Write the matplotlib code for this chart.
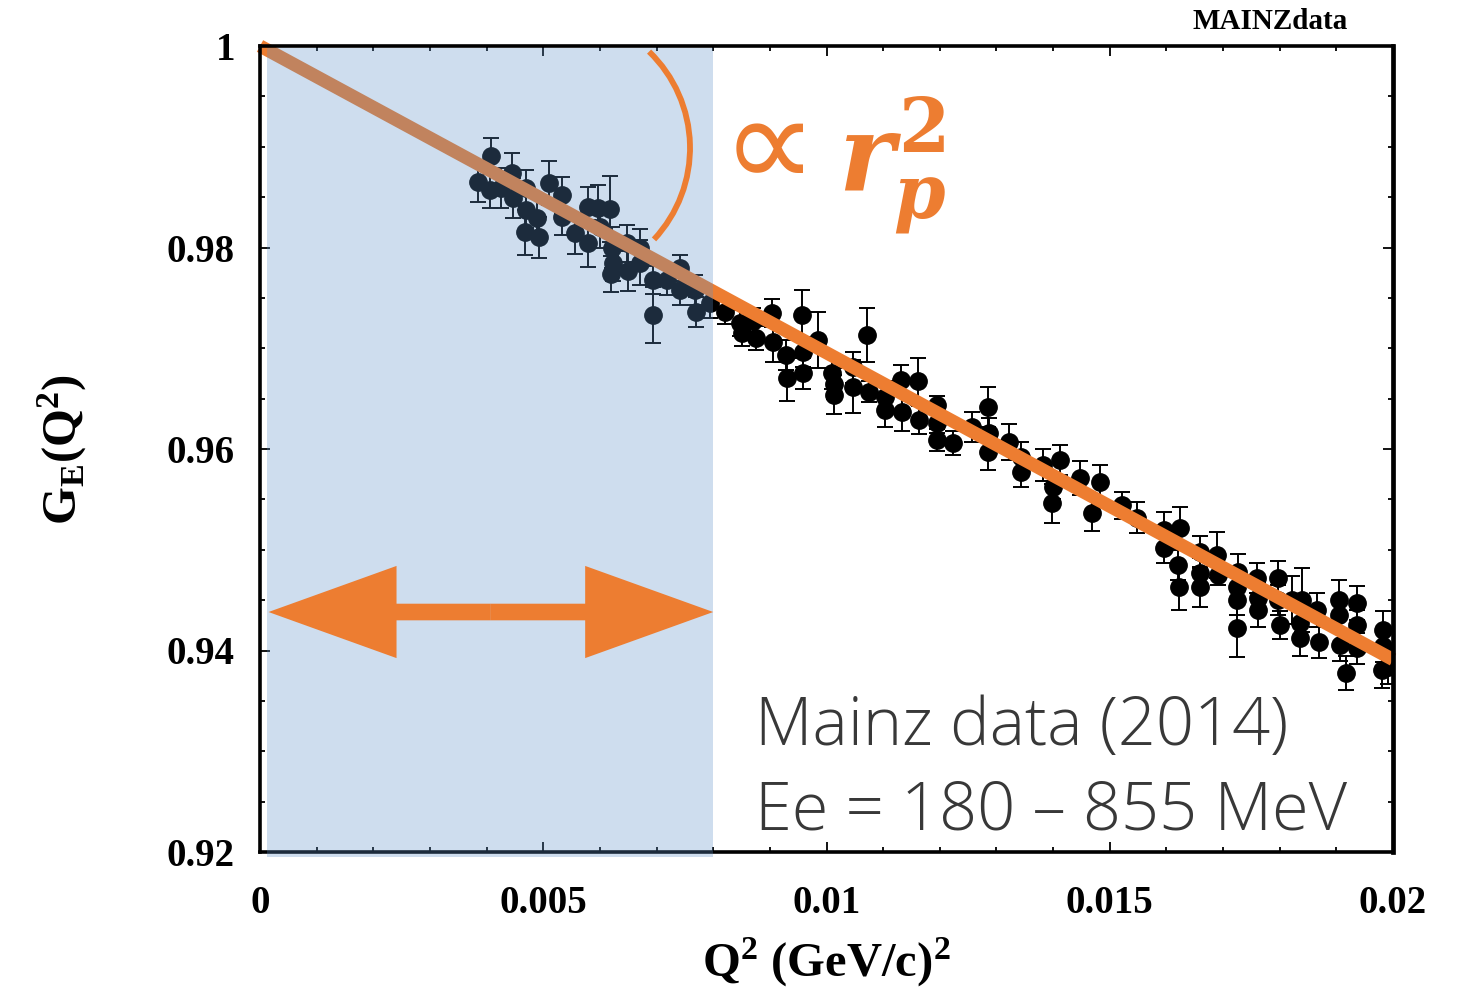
import matplotlib
matplotlib.use("Agg")
import matplotlib.pyplot as plt
from matplotlib.patches import Rectangle, FancyArrow, Arc
from matplotlib.transforms import IdentityTransform
from matplotlib.ticker import FixedLocator, FixedFormatter, MultipleLocator
import numpy as np

plt.rcParams['mathtext.fontset'] = 'custom'
plt.rcParams['mathtext.rm'] = 'Liberation Serif:bold'
plt.rcParams['mathtext.bf'] = 'Liberation Serif:bold'
plt.rcParams['mathtext.it'] = 'DejaVu Serif:italic:bold'
plt.rcParams['mathtext.sf'] = 'DejaVu Serif:bold'

# ---------------- data ----------------
q2 = [3.85, 4.08, 4.06, 4.25, 4.45, 4.47, 4.70, 4.70, 4.68, 4.89, 4.92, 5.10,
      5.33, 5.33, 5.56, 5.79, 5.79, 5.97, 6.18, 6.00, 6.21, 6.23, 6.20, 6.48,
      6.50, 6.71, 6.71, 6.94, 6.94, 7.18, 7.41, 7.41, 7.68, 7.70, 7.94,
      8.21, 8.47, 8.51, 8.76, 8.70, 9.04, 9.05, 9.29, 9.30, 9.57, 9.59, 9.59,
      9.85, 10.10, 10.13, 10.13, 10.47, 10.47, 10.71, 10.75, 11.03, 11.03,
      11.32, 11.33, 11.62, 11.63, 11.95, 11.95, 11.95, 12.23, 12.57, 12.85,
      12.87, 12.85, 13.22, 13.43, 13.43, 13.82, 14.12, 14.00, 13.98, 14.47,
      14.69, 14.83, 15.22, 15.48, 15.96, 15.96, 16.24, 16.21, 16.59, 16.59,
      16.22, 16.59, 16.89, 16.91, 17.26, 17.24, 17.24, 17.24, 17.60, 17.62,
      17.62, 17.97, 17.97, 18.00, 18.22, 18.39, 18.36, 18.36, 18.66, 18.69,
      19.05, 19.05, 19.06, 19.17, 19.36, 19.36, 19.36, 19.82, 19.82, 19.81,
      19.91]  # units of 1e-3 (GeV/c)^2
ge = [0.9865, 0.9891, 0.9857, 0.9859, 0.9874, 0.9849, 0.9859, 0.9837, 0.9815,
      0.9829, 0.9810, 0.9864, 0.9852, 0.9830, 0.9814, 0.9840, 0.9804, 0.9839,
      0.9838, 0.9820, 0.9800, 0.9785, 0.9774, 0.9804, 0.9777, 0.9800, 0.9785,
      0.9768, 0.9733, 0.9768, 0.9780, 0.9758, 0.9758, 0.9736, 0.9745,
      0.9736, 0.9725, 0.9715, 0.9710, 0.9727, 0.9735, 0.9706, 0.9693, 0.9670,
      0.9733, 0.9696, 0.9675, 0.9708, 0.9675, 0.9665, 0.9654, 0.9681, 0.9662,
      0.9713, 0.9657, 0.9652, 0.9639, 0.9668, 0.9637, 0.9667, 0.9629, 0.9644,
      0.9626, 0.9609, 0.9606, 0.9622, 0.9642, 0.9616, 0.9597, 0.9607, 0.9592,
      0.9577, 0.9584, 0.9589, 0.9562, 0.9546, 0.9571, 0.9536, 0.9567, 0.9544,
      0.9532, 0.9520, 0.9502, 0.9522, 0.9485, 0.9498, 0.9477, 0.9463, 0.9463,
      0.9495, 0.9475, 0.9478, 0.9463, 0.9450, 0.9422, 0.9472, 0.9452, 0.9440,
      0.9472, 0.9450, 0.9425, 0.9450, 0.9450, 0.9427, 0.9412, 0.9440, 0.9408,
      0.9450, 0.9435, 0.9405, 0.9378, 0.9447, 0.9425, 0.9402, 0.9420, 0.9404,
      0.9381, 0.9384]
ge_err = [2.0, 1.8, 1.8, 2.0, 2.0, 2.0, 1.8, 1.8, 2.2, 2.0, 2.0, 2.2, 1.8, 1.8,
          2.0, 2.0, 2.3, 2.3, 3.3, 2.0, 2.0, 1.8, 1.8, 1.8, 2.0, 1.8, 2.2, 1.4,
          2.8, 1.5, 1.3, 1.5, 1.5, 1.5, 1.5,
          1.2, 1.3, 1.3, 1.2, 1.3, 1.4, 2.0, 1.5, 2.2, 2.5, 1.5, 1.5, 2.8, 1.5,
          1.5, 1.9, 1.5, 2.6, 2.7, 1.0, 1.5, 1.7, 1.5, 1.9, 2.3, 1.4, 0.9, 1.0,
          1.1, 1.2, 1.5, 2.0, 1.5, 1.8, 1.8, 1.5, 1.5, 1.6, 1.5, 1.2, 1.9, 1.7,
          1.7, 1.7, 1.3, 1.5, 1.7, 1.5, 2.0, 1.5, 1.6, 1.5, 2.3, 2.0, 2.3, 1.0,
          1.8, 1.5, 1.5, 2.8, 1.5, 1.5, 1.7, 1.7, 1.5, 1.4, 2.4, 3.2, 1.5, 1.7,
          1.7, 1.5, 2.0, 1.5, 1.5, 1.7, 1.7, 1.5, 1.5, 1.9, 1.5, 1.8, 1.7]  # 1e-3

fit_q2 = [0.0, 0.02]
fit_ge = [1.0, 0.9391]

xticks = [0, 0.005, 0.01, 0.015, 0.02]
xtick_labels = ['0', '0.005', '0.01', '0.015', '0.02']
yticks = [0.92, 0.94, 0.96, 0.98, 1.0]
ytick_labels = ['0.92', '0.94', '0.96', '0.98', '1']

region_q2 = [0.00012, 0.008]
region_ge = [0.9195, 0.9998]

ORANGE = '#ED7D31'
W, H = 1469, 992

def fp(x, y):
    return (x / W, 1 - y / H)

fig = plt.figure(figsize=(W / 100, H / 100), dpi=100)
ax = fig.add_axes([260 / W, 1 - 852 / H, 1133 / W, 806 / H])

x = np.array(q2) * 1e-3
ax.errorbar(x, ge, yerr=np.array(ge_err) * 1e-3, fmt='o', color='black',
            ms=12.5, elinewidth=1.4, capsize=5.5, capthick=1.4, zorder=2)
ax.plot(fit_q2, fit_ge, color=ORANGE, lw=9.5, solid_capstyle='butt',
        zorder=2.2, clip_on=False)

ax.add_patch(Rectangle((region_q2[0], region_ge[0]), region_q2[1] - region_q2[0],
                       region_ge[1] - region_ge[0], facecolor='#5D91C8',
                       alpha=0.30, edgecolor='none', zorder=3, clip_on=False))

# double arrow
ay = 0.94382
mid = (region_q2[0] + 0.00003 + region_q2[1]) / 2
for end in (region_q2[0] + 0.00003, region_q2[1]):
    ax.add_patch(FancyArrow(mid, ay, end - mid, 0, width=0.00165,
                            head_width=0.00915, head_length=0.00226,
                            length_includes_head=True, color=ORANGE,
                            lw=0, zorder=4, clip_on=False))

ax.set_xlim(0, 0.02)
ax.set_ylim(0.92, 1.0)
ax.xaxis.set_major_locator(FixedLocator(xticks))
ax.xaxis.set_major_formatter(FixedFormatter(xtick_labels))
ax.yaxis.set_major_locator(FixedLocator(yticks))
ax.yaxis.set_major_formatter(FixedFormatter(ytick_labels))
ax.xaxis.set_minor_locator(MultipleLocator(0.001))
ax.yaxis.set_minor_locator(MultipleLocator(0.005))
ax.tick_params(which='both', direction='in', top=True, right=True, width=1.3,
               color='black')
ax.tick_params(which='major', length=7)
ax.tick_params(which='minor', length=3.5)
ax.tick_params(axis='y', labelsize=28, pad=18)
ax.tick_params(axis='x', labelsize=28, pad=24)
for lab in ax.get_xticklabels() + ax.get_yticklabels():
    lab.set_fontfamily('Liberation Serif')
    lab.set_fontweight('bold')
for s in ax.spines.values():
    s.set_linewidth(2.6)
ax.spines['right'].set_linewidth(3.4)

ax.set_xlabel(r'Q$^{\mathbf{2}}$ (GeV/c)$^{\mathbf{2}}$', fontsize=35,
              fontfamily='Liberation Serif', fontweight='bold')
ax.xaxis.set_label_coords(0.4996, -0.137)
ax.xaxis.label.set_va('center')
ax.set_ylabel(r'G$_{\mathbf{E}}$(Q$^{\mathbf{2}}$)', fontsize=35,
              fontfamily='Liberation Serif', fontweight='bold')
ax.yaxis.set_label_coords(-0.175, 0.499)
ax.yaxis.label.set_va('center')

fig.text(*fp(1270, 29), 'MAINZdata', ha='center', va='baseline', fontsize=21,
         fontfamily='Liberation Serif', fontweight='bold')

# proportional to r_p^2 annotation
fig.add_artist(Arc((556, H - 148), 268, 268, theta1=-43, theta2=46,
                   transform=IdentityTransform(), color=ORANGE, lw=4.2,
                   zorder=5))
fig.text(*fp(722, 188), '\u221d', ha='left', va='baseline', fontsize=96,
         color=ORANGE, fontfamily='DejaVu Sans')
fig.text(*fp(838, 190), r'$r_{p}^{\mathsf{2}}$', ha='left', va='baseline',
         fontsize=76, color=ORANGE)

txt_kw = dict(ha='left', va='baseline', fontsize=48, color='#383838',
              fontfamily='Open Sans', fontweight='light')
fig.text(*fp(755, 745), 'Mainz data (2014)', **txt_kw)
fig.text(*fp(755, 830), 'Ee = 180 \u2013 855 MeV', **txt_kw)

fig.savefig('out.png', dpi=100)
